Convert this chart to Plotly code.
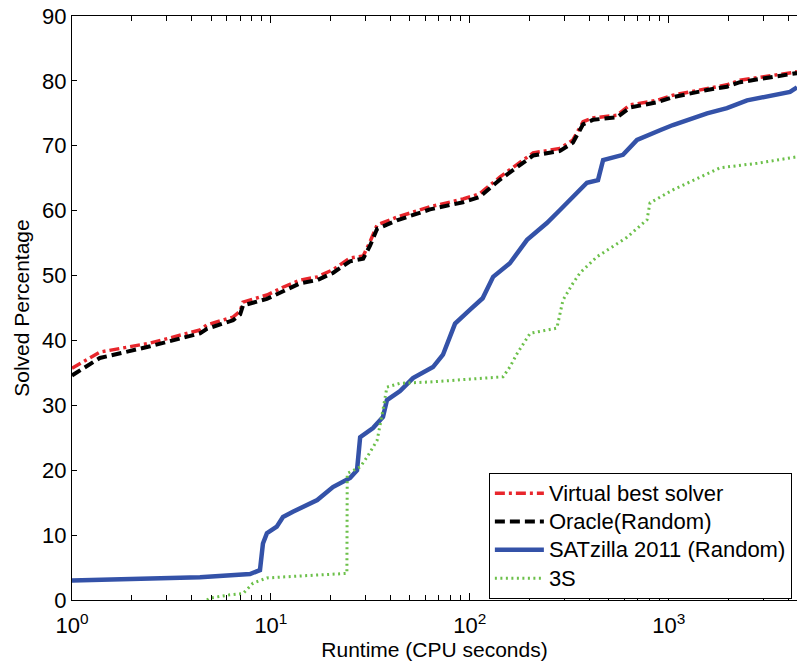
import plotly.graph_objects as go

# Runtime (CPU seconds) and solved percentage for each portfolio approach
vbs_t = [1.0, 1.38, 2.47, 3.49, 4.40, 4.77, 6.45, 7.0, 7.24, 9.55, 11.5, 14.0, 17.1, 20.5,
         25.0, 29.1, 31.5, 34.2, 43.0, 63.1, 92.5, 112, 142, 208, 284, 330, 371, 416, 550,
         639, 873, 1050, 1560, 1963, 2280, 3342, 4416]
vbs_y = [35.7, 38.2, 39.6, 40.8, 41.6, 42.4, 43.6, 44.5, 45.9, 47.0, 48.2, 49.3, 49.8, 50.9,
         52.7, 53.0, 55.2, 57.8, 59.0, 60.6, 61.8, 62.6, 65.2, 68.9, 69.6, 70.9, 73.7, 74.3, 74.7,
         76.3, 77.0, 77.8, 78.9, 79.4, 80.1, 80.9, 81.4]

oracle_t = vbs_t
oracle_y = [34.6, 37.3, 39.1, 40.3, 41.1, 41.8, 43.1, 44.0, 45.4, 46.4, 47.6, 48.8, 49.3, 50.4,
            52.2, 52.6, 54.6, 57.2, 58.5, 60.2, 61.3, 62.1, 64.8, 68.5, 69.2, 70.5, 73.3, 74.0, 74.4,
            75.9, 76.7, 77.5, 78.6, 79.1, 79.8, 80.7, 81.2]

satz_t = [1.0, 4.40, 7.85, 8.81, 9.12, 9.55, 10.7, 11.5, 12.9, 17.1, 20.5, 25.0, 27.1, 28.1,
          32.6, 36.6, 38.3, 44.6, 51.8, 65.3, 73.3, 84.3, 100, 116, 131, 159, 194, 244, 284,
          388, 441, 468, 589, 693, 904, 1050, 1560, 1963, 2477, 3342, 4074, 4416]
satz_y = [3.0, 3.5, 4.0, 4.6, 8.7, 10.3, 11.3, 12.8, 13.6, 15.4, 17.4, 18.8, 20.0, 25.1,
          26.5, 28.2, 30.8, 32.2, 34.2, 35.9, 37.8, 42.6, 44.7, 46.5, 49.8, 51.9, 55.5, 58.1, 60.1,
          64.3, 64.7, 67.8, 68.6, 70.9, 72.4, 73.2, 75.0, 75.8, 77.0, 77.8, 78.3, 79.0]

s3_t = [4.77, 4.94, 6.23, 7.24, 8.13, 9.55, 14.0, 24.1, 24.2, 28.1, 30.4, 34.2, 36.6, 38.3,
        44.6, 63.1, 147, 159, 173, 201, 274, 294, 330, 358, 436, 617, 778, 805, 1050, 1325,
        1811, 2779, 4416]
s3_y = [0.0, 0.3, 0.8, 1.0, 2.6, 3.4, 3.7, 4.1, 19.5, 20.5, 22.0, 24.6, 29.3, 32.8,
        33.4, 33.6, 34.4, 35.9, 38.0, 41.1, 41.9, 46.2, 48.8, 50.4, 52.9, 55.9, 58.6, 61.2, 63.2, 64.7,
        66.6, 67.3, 68.3]

series_names = ["Virtual best solver", "Oracle(Random)", "SATzilla 2011 (Random)", "3S"]

x_tick_vals = [1, 10, 100, 1000]
x_tick_text = ["10<sup>0</sup>", "10<sup>1</sup>", "10<sup>2</sup>", "10<sup>3</sup>"]
minor_vals = [m * d for d in (1, 10, 100, 1000) for m in range(2, 10)]

FONT = "Liberation Sans, Arial, sans-serif"


def legend_label(name):
    # larger glyphs while keeping the compact row spacing of the legend font
    return f'<span style="font-size:22px">{name}</span>'


fig = go.Figure()
fig.add_trace(go.Scatter(x=vbs_t, y=vbs_y, mode="lines", name=legend_label(series_names[0]),
                         line=dict(color="#e8262c", width=3.5, dash="10px,4px,3px,4px")))
fig.add_trace(go.Scatter(x=oracle_t, y=oracle_y, mode="lines", name=legend_label(series_names[1]),
                         line=dict(color="black", width=4, dash="10px,5px")))
fig.add_trace(go.Scatter(x=satz_t, y=satz_y, mode="lines", name=legend_label(series_names[2]),
                         line=dict(color="#3452a8", width=4.5)))
fig.add_trace(go.Scatter(x=s3_t, y=s3_y, mode="lines", name=legend_label(series_names[3]),
                         line=dict(color="#6cc04a", width=3, dash="2px,3.5px")))

fig.update_layout(
    width=797, height=664,
    margin=dict(l=72, r=0, t=16, b=64),
    paper_bgcolor="white", plot_bgcolor="white",
    font=dict(family=FONT, size=22, color="black"),
    showlegend=True,
    legend=dict(x=0.575, y=0.2175, xanchor="left", yanchor="top",
                bgcolor="white", bordercolor="black", borderwidth=1,
                font=dict(family=FONT, size=19.5), tracegroupgap=0,
                itemwidth=49),
)
fig.update_xaxes(
    type="log", range=[0, 3.645],
    tickvals=x_tick_vals, ticktext=x_tick_text,
    ticks="inside", ticklen=7, tickcolor="black", tickwidth=1,
    showline=True, linecolor="black", linewidth=1, mirror="allticks",
    showgrid=False, zeroline=False, automargin=False,
    tickfont=dict(family=FONT, size=22), ticklabelstandoff=6,
    minor=dict(tickvals=minor_vals, ticks="inside", ticklen=5, tickcolor="black", showgrid=False),
    title=dict(text="Runtime (CPU seconds)", font=dict(family=FONT, size=21), standoff=0),
)
fig.update_yaxes(
    range=[0, 90], tickvals=list(range(0, 91, 10)),
    ticks="inside", ticklen=5, tickcolor="black", tickwidth=1,
    showline=True, linecolor="black", linewidth=1, mirror=False,
    showgrid=False, zeroline=False, automargin=False,
    tickfont=dict(family=FONT, size=22),
    title=dict(text="Solved Percentage", font=dict(family=FONT, size=21), standoff=6),
)

fig.write_html("out.html")
